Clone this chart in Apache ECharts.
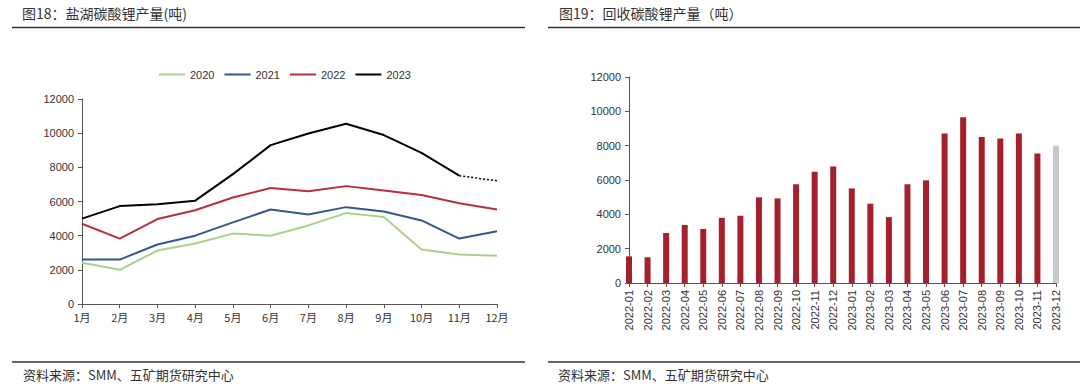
<!DOCTYPE html>
<html>
<head>
<meta charset="utf-8">
<script src="https://cdn.jsdelivr.net/npm/echarts@6/dist/echarts.min.js"></script>
<style>
html,body{margin:0;padding:0;background:#fff;}
#c{width:1080px;height:391px;}
</style>
</head>
<body>
<div id="c"></div>
<script>
// ---- Left chart data: 盐湖碳酸锂产量(吨) ----
const months = ['1月','2月','3月','4月','5月','6月','7月','8月','9月','10月','11月','12月'];
const s2020 = [2420, 2000, 3130, 3540, 4120, 4000, 4600, 5320, 5090, 3190, 2900, 2820];
const s2021 = [2600, 2600, 3480, 4000, 4780, 5530, 5240, 5670, 5420, 4890, 3830, 4260];
const s2022 = [4700, 3830, 4970, 5490, 6230, 6790, 6600, 6900, 6650, 6380, 5900, 5530];
const s2023 = [5000, 5730, 5840, 6050, 7600, 9300, 9980, 10550, 9890, 8850, 7510];
const s2023Dec = 7210; // dotted (estimate)
const leftTicks = [0, 2000, 4000, 6000, 8000, 10000, 12000];

// ---- Right chart data: 回收碳酸锂产量(吨) ----
const recMonths = ['2022-01','2022-02','2022-03','2022-04','2022-05','2022-06','2022-07','2022-08','2022-09','2022-10','2022-11','2022-12',
                   '2023-01','2023-02','2023-03','2023-04','2023-05','2023-06','2023-07','2023-08','2023-09','2023-10','2023-11','2023-12'];
const recValues = [1550, 1500, 2910, 3380, 3150, 3800, 3920, 4990, 4930, 5750, 6480, 6790,
                   5510, 4620, 3840, 5750, 5980, 8710, 9650, 8500, 8420, 8710, 7540];
const recDecEstimate = 8000; // grey bar
const rightTicks = [0, 2000, 4000, 6000, 8000, 10000, 12000];

const titleLeft = '图18：盐湖碳酸锂产量(吨)';
const titleRight = '图19：回收碳酸锂产量（吨）';
const sourceText = '资料来源：SMM、五矿期货研究中心';

const cjk = '"Noto Sans CJK SC", "Noto Sans", sans-serif';
const num = '"Liberation Sans", Arial, "Noto Sans CJK SC", sans-serif';
const txt = '#333';
const axisCol = '#555';

const dottedData = months.map((m, i) => i === 10 ? s2023[10] : (i === 11 ? s2023Dec : null));
const recData = recValues.map(v => v).concat([{ value: recDecEstimate, itemStyle: { color: '#c9c9c9' } }]);

const chart = echarts.init(document.getElementById('c'), null, { renderer: 'svg', width: 1080, height: 391 });

function yAxis(gi, ticks) {
  return {
    type: 'value', gridIndex: gi, min: ticks[0], max: ticks[ticks.length - 1], interval: 2000,
    axisLine: { show: true, lineStyle: { color: axisCol, width: 1 } },
    axisTick: { show: true, length: 4, lineStyle: { color: axisCol } },
    splitLine: { show: false },
    axisLabel: { color: txt, fontSize: 11, fontFamily: num, margin: 8, formatter: v => String(v) }
  };
}

const option = {
  backgroundColor: '#fff',
  animation: false,
  graphic: [
    { type: 'text', left: 22, top: 6, style: { text: titleLeft, font: '14px ' + cjk, fill: txt } },
    { type: 'text', left: 559, top: 6, style: { text: titleRight, font: '14px ' + cjk, fill: txt } },
    { type: 'line', shape: { x1: 12, y1: 27.5, x2: 525, y2: 27.5 }, style: { stroke: '#333', lineWidth: 1.5 } },
    { type: 'line', shape: { x1: 548, y1: 27.5, x2: 1080, y2: 27.5 }, style: { stroke: '#333', lineWidth: 1.5 } },
    { type: 'line', shape: { x1: 12, y1: 362, x2: 525, y2: 362 }, style: { stroke: '#333', lineWidth: 1.5 } },
    { type: 'line', shape: { x1: 548, y1: 362, x2: 1080, y2: 362 }, style: { stroke: '#333', lineWidth: 1.5 } },
    { type: 'text', left: 23, top: 368, style: { text: sourceText, font: '13px ' + cjk, fill: txt } },
    { type: 'text', left: 558, top: 368, style: { text: sourceText, font: '13px ' + cjk, fill: txt } }
  ],
  legend: {
    data: ['2020', '2021', '2022', '2023'],
    left: 154, top: 64,
    itemWidth: 26, itemHeight: 2, itemGap: 10,
    icon: 'rect',
    textStyle: { color: txt, fontSize: 11, fontFamily: num }
  },
  grid: [
    { left: 82, right: 1080 - 497, top: 99, height: 205, containLabel: false },
    { left: 629, right: 1080 - 1056, top: 77, height: 206, containLabel: false }
  ],
  xAxis: [
    {
      type: 'category', gridIndex: 0, data: months, boundaryGap: false,
      axisLine: { lineStyle: { color: axisCol } },
      axisTick: { show: true, length: 4, lineStyle: { color: axisCol }, alignWithLabel: true },
      axisLabel: { color: txt, fontSize: 11, fontFamily: cjk, margin: 7, interval: 0 }
    },
    {
      type: 'category', gridIndex: 1, data: recMonths, boundaryGap: false,
      axisLine: { lineStyle: { color: axisCol } },
      axisTick: { show: true, length: 4, lineStyle: { color: axisCol } },
      axisLabel: { color: txt, fontSize: 11, fontFamily: num, rotate: 90, margin: 7, interval: 0 }
    }
  ],
  yAxis: [yAxis(0, leftTicks), yAxis(1, rightTicks)],
  series: [
    { name: '2020', type: 'line', xAxisIndex: 0, yAxisIndex: 0, data: s2020, symbol: 'none', lineStyle: { color: '#A9D08E', width: 2 }, itemStyle: { color: '#A9D08E' } },
    { name: '2021', type: 'line', xAxisIndex: 0, yAxisIndex: 0, data: s2021, symbol: 'none', lineStyle: { color: '#33578E', width: 2 }, itemStyle: { color: '#33578E' } },
    { name: '2022', type: 'line', xAxisIndex: 0, yAxisIndex: 0, data: s2022, symbol: 'none', lineStyle: { color: '#B4303D', width: 2 }, itemStyle: { color: '#B4303D' } },
    { name: '2023', type: 'line', xAxisIndex: 0, yAxisIndex: 0, data: s2023, symbol: 'none', lineStyle: { color: '#000', width: 2 }, itemStyle: { color: '#000' } },
    { name: '2023预估', type: 'line', xAxisIndex: 0, yAxisIndex: 0, data: dottedData, symbol: 'none', lineStyle: { color: '#000', width: 1.5, type: [2, 2] } },
    { name: '回收碳酸锂', type: 'bar', xAxisIndex: 1, yAxisIndex: 1, data: recData, barWidth: 6, itemStyle: { color: '#A4202D' }, clip: true }
  ]
};
chart.setOption(option);
</script>
</body>
</html>
